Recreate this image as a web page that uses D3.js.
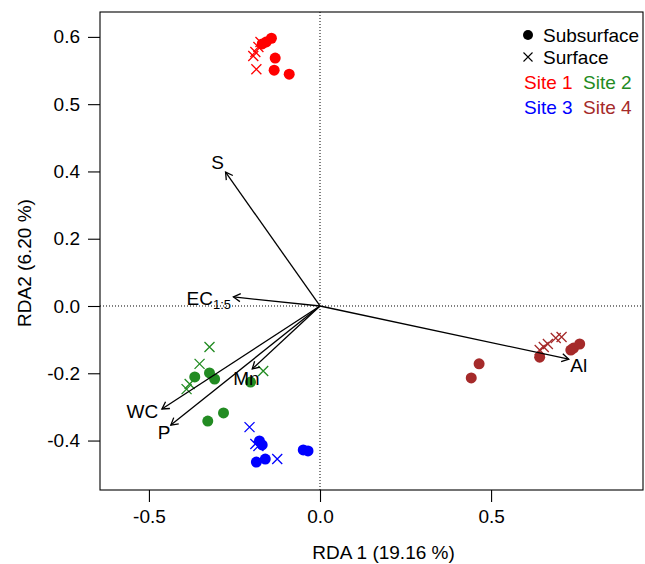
<!DOCTYPE html>
<html>
<head>
<meta charset="utf-8">
<script src="https://cdn.jsdelivr.net/npm/d3@7"></script>
<style>
  body { margin: 0; background: #fff; }
  text { font-family: "Liberation Sans", Arial, sans-serif; }
</style>
</head>
<body>
<svg id="chart" width="645" height="564"></svg>
<script>
"use strict";

// site colours
const sites = ["Site 1", "Site 2", "Site 3", "Site 4"];
const siteColors = ["#ff0000", "#228b22", "#0000ff", "#a52a2a"];

// sample scores (RDA1, RDA2), per site
const subsurface = [
  [[-0.142, 0.796], [-0.157, 0.785], [-0.169, 0.779], [-0.131, 0.737], [-0.134, 0.701], [-0.090, 0.689]],
  [[-0.366, -0.211], [-0.323, -0.199], [-0.308, -0.217], [-0.203, -0.226], [-0.282, -0.318], [-0.328, -0.342]],
  [[-0.177, -0.401], [-0.169, -0.413], [-0.186, -0.464], [-0.160, -0.455], [-0.049, -0.428], [-0.035, -0.431]],
  [[0.465, -0.172], [0.442, -0.214], [0.642, -0.152], [0.733, -0.131], [0.741, -0.125], [0.759, -0.113]]
];
const surface = [
  [[-0.174, 0.785], [-0.180, 0.770], [-0.189, 0.755], [-0.195, 0.743], [-0.186, 0.704]],
  [[-0.323, -0.122], [-0.352, -0.172], [-0.381, -0.232], [-0.390, -0.247], [-0.166, -0.193]],
  [[-0.206, -0.360], [-0.189, -0.410], [-0.180, -0.416], [-0.125, -0.455]],
  [[0.642, -0.131], [0.654, -0.122], [0.666, -0.113], [0.689, -0.095], [0.706, -0.092]]
];

// environmental vectors
const envNames = ["S", "EC", "Al", "WC", "P", "Mn"];
const envSub = ["", "1:5", "", "", "", ""];
const envTips = [[-0.276, 0.398], [-0.253, 0.027], [0.727, -0.158], [-0.462, -0.306], [-0.436, -0.354], [-0.198, -0.187]];
const envLabels = [[-0.299, 0.428], [-0.325, 0.024], [0.756, -0.175], [-0.519, -0.312], [-0.456, -0.377], [-0.215, -0.214]];

// axis ticks (the y labels are as printed on the original)
const xTicks = [-0.5, 0, 0.5];
const xTickLabels = ["-0.5", "0.0", "0.5"];
const yTicks = [-0.4, -0.2, 0, 0.2, 0.4, 0.6, 0.8];
const yTickLabels = ["-0.4", "-0.2", "0.0", "0.2", "0.4", "0.5", "0.6"];

const FS = 19;
const svg = d3.select("#chart");
const box = {left: 100, right: 643, top: 12, bottom: 490};

const x = d3.scaleLinear().domain([-0.643, 0.944]).range([box.left, box.right]);
const y = d3.scaleLinear().domain([-0.547, 0.874]).range([box.bottom, box.top]);

// reference lines through the origin
svg.append("line")
  .attr("x1", x(0)).attr("x2", x(0)).attr("y1", box.top).attr("y2", box.bottom)
  .attr("stroke", "#000").attr("stroke-width", 1).attr("stroke-dasharray", "1,2");
svg.append("line")
  .attr("x1", box.left).attr("x2", box.right).attr("y1", y(0)).attr("y2", y(0))
  .attr("stroke", "#000").attr("stroke-width", 1).attr("stroke-dasharray", "1,2");

// axes
const xAxis = d3.axisBottom(x).tickValues(xTicks).tickFormat((d, i) => xTickLabels[i]).tickSize(12).tickPadding(8);
const yAxis = d3.axisLeft(y).tickValues(yTicks).tickFormat((d, i) => yTickLabels[i]).tickSize(12).tickPadding(8);

const gx = svg.append("g").attr("transform", `translate(0,${box.bottom})`).call(xAxis);
const gy = svg.append("g").attr("transform", `translate(${box.left},0)`).call(yAxis);
[gx, gy].forEach(g => {
  g.select(".domain").remove();
  g.selectAll("line").attr("stroke", "#000").attr("stroke-width", 1.1);
  g.selectAll("text").attr("fill", "#000").attr("font-size", FS)
    .style("font-family", '"Liberation Sans", Arial, sans-serif');
});

svg.append("rect")
  .attr("x", box.left).attr("y", box.top)
  .attr("width", box.right - box.left).attr("height", box.bottom - box.top)
  .attr("fill", "none").attr("stroke", "#000").attr("stroke-width", 1.1);

// axis titles
svg.append("text")
  .attr("x", (box.left + box.right) / 2 + 12).attr("y", 559)
  .attr("text-anchor", "middle").attr("font-size", FS).text("RDA 1 (19.16 %)");
svg.append("text")
  .attr("transform", `translate(31,${(box.top + box.bottom) / 2 + 12}) rotate(-90)`)
  .attr("text-anchor", "middle").attr("font-size", FS).text("RDA2 (6.20 %)");

// points
const pts = svg.append("g");
surface.forEach((set, i) => {
  pts.selectAll(null).data(set).enter().append("path")
    .attr("transform", d => `translate(${x(d[0])},${y(d[1])})`)
    .attr("d", "M-5,-5L5,5M-5,5L5,-5")
    .attr("stroke", siteColors[i]).attr("stroke-width", 1.3).attr("fill", "none");
});
subsurface.forEach((set, i) => {
  pts.selectAll(null).data(set).enter().append("circle")
    .attr("cx", d => x(d[0])).attr("cy", d => y(d[1]))
    .attr("r", 5.5).attr("fill", siteColors[i]);
});

// arrows
const arrows = svg.append("g");
envTips.forEach((t, i) => {
  const x0 = x(0), y0 = y(0), x1 = x(t[0]), y1 = y(t[1]);
  const ang = Math.atan2(y1 - y0, x1 - x0);
  const len = 8, spread = Math.PI / 6;
  arrows.append("line")
    .attr("x1", x0).attr("y1", y0).attr("x2", x1).attr("y2", y1)
    .attr("stroke", "#000").attr("stroke-width", 1.3);
  arrows.append("path")
    .attr("d", `M${x1 - len * Math.cos(ang - spread)},${y1 - len * Math.sin(ang - spread)}L${x1},${y1}L${x1 - len * Math.cos(ang + spread)},${y1 - len * Math.sin(ang + spread)}`)
    .attr("stroke", "#000").attr("stroke-width", 1.3).attr("fill", "none");

  const lab = arrows.append("text")
    .attr("x", x(envLabels[i][0])).attr("y", y(envLabels[i][1]))
    .attr("dy", "0.35em").attr("text-anchor", "middle").attr("font-size", FS)
    .text(envNames[i]);
  if (envSub[i])
    lab.append("tspan").attr("font-size", 13).attr("dy", 4).text(envSub[i]);
});

// legend
const leg = svg.append("g");
leg.append("circle").attr("cx", 528).attr("cy", 35).attr("r", 5).attr("fill", "#000");
leg.append("text").attr("x", 543).attr("y", 35).attr("dy", "0.35em").attr("font-size", FS).text("Subsurface");
leg.append("path").attr("transform", "translate(528,57)").attr("d", "M-4.5,-4.5L4.5,4.5M-4.5,4.5L4.5,-4.5")
  .attr("stroke", "#000").attr("stroke-width", 1.1);
leg.append("text").attr("x", 543).attr("y", 57).attr("dy", "0.35em").attr("font-size", FS).text("Surface");
sites.forEach((s, i) => {
  leg.append("text")
    .attr("x", 524 + (i % 2) * 59).attr("y", 82 + Math.floor(i / 2) * 25)
    .attr("dy", "0.35em").attr("font-size", FS).attr("fill", siteColors[i]).text(s);
});
</script>
</body>
</html>
